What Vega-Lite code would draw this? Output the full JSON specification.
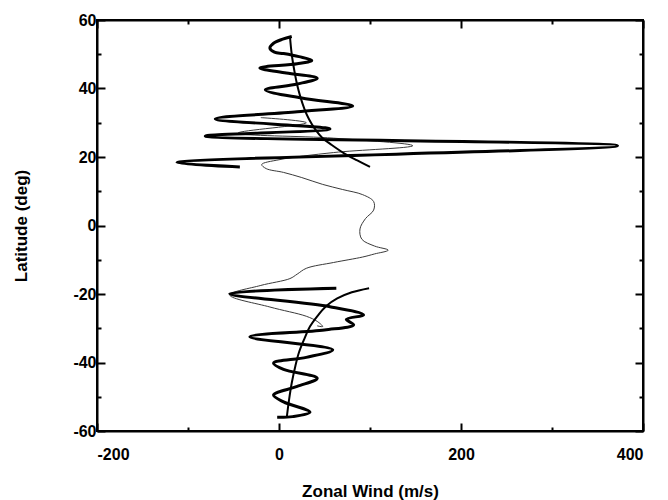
{
  "$schema": "https://vega.github.io/schema/vega-lite/v6.json",
  "width": 546,
  "height": 411,
  "autosize": {"type": "none"},
  "padding": {"left": 97, "top": 20, "right": 25, "bottom": 69},
  "background": "white",
  "config": {
    "view": {"stroke": "black", "strokeWidth": 2},
    "axis": {
      "grid": false,
      "domainColor": "black",
      "domainWidth": 2,
      "tickColor": "black",
      "tickWidth": 2,
      "labelFont": "Liberation Sans",
      "labelFontWeight": "bold",
      "labelFontSize": 16,
      "labelColor": "black",
      "titleFont": "Liberation Sans",
      "titleFontWeight": "bold",
      "titleFontSize": 17,
      "titleColor": "black"
    }
  },
  "data": {
    "values": [
      {"s": "N", "i": 1, "u": 14, "lat": 55.2},
      {"s": "N", "i": 2, "u": 4, "lat": 54.4},
      {"s": "N", "i": 3, "u": -6, "lat": 53.2},
      {"s": "N", "i": 4, "u": -10, "lat": 51.8},
      {"s": "N", "i": 5, "u": -5, "lat": 50.6},
      {"s": "N", "i": 6, "u": 5, "lat": 50.2},
      {"s": "N", "i": 7, "u": 22, "lat": 49.3},
      {"s": "N", "i": 8, "u": 36, "lat": 48.2},
      {"s": "N", "i": 9, "u": 20, "lat": 47.2},
      {"s": "N", "i": 10, "u": -21, "lat": 46},
      {"s": "N", "i": 11, "u": 8, "lat": 44.5},
      {"s": "N", "i": 12, "u": 42, "lat": 43},
      {"s": "N", "i": 13, "u": 20, "lat": 41.3},
      {"s": "N", "i": 14, "u": -15, "lat": 39.6},
      {"s": "N", "i": 15, "u": 25, "lat": 37.2},
      {"s": "N", "i": 16, "u": 81, "lat": 34.9},
      {"s": "N", "i": 17, "u": 20, "lat": 33.2},
      {"s": "N", "i": 18, "u": -70, "lat": 31.1},
      {"s": "N", "i": 19, "u": 56, "lat": 28.2},
      {"s": "N", "i": 20, "u": -81, "lat": 26.1},
      {"s": "N", "i": 21, "u": 372, "lat": 23.3},
      {"s": "N", "i": 22, "u": -112, "lat": 18.4},
      {"s": "N", "i": 23, "u": -43, "lat": 17.1},
      {"s": "S", "i": 1, "u": 63, "lat": -18.3},
      {"s": "S", "i": 2, "u": -54, "lat": -19.9},
      {"s": "S", "i": 3, "u": 56, "lat": -23.7},
      {"s": "S", "i": 4, "u": 93, "lat": -26.1},
      {"s": "S", "i": 5, "u": 74, "lat": -27.4},
      {"s": "S", "i": 6, "u": 82, "lat": -29},
      {"s": "S", "i": 7, "u": 50, "lat": -30.5},
      {"s": "S", "i": 8, "u": -32, "lat": -32.5},
      {"s": "S", "i": 9, "u": 59, "lat": -36.3},
      {"s": "S", "i": 10, "u": 30, "lat": -38.5},
      {"s": "S", "i": 11, "u": -6, "lat": -40.2},
      {"s": "S", "i": 12, "u": 5, "lat": -42},
      {"s": "S", "i": 13, "u": 42, "lat": -44.6},
      {"s": "S", "i": 14, "u": 20, "lat": -47},
      {"s": "S", "i": 15, "u": -6, "lat": -49.5},
      {"s": "S", "i": 16, "u": 5, "lat": -51.5},
      {"s": "S", "i": 17, "u": 34, "lat": -54.5},
      {"s": "S", "i": 18, "u": 15, "lat": -55.8},
      {"s": "S", "i": 19, "u": -2, "lat": -56},
      {"s": "NS", "i": 1, "u": 12, "lat": 55.3},
      {"s": "NS", "i": 2, "u": 14, "lat": 50},
      {"s": "NS", "i": 3, "u": 17, "lat": 45},
      {"s": "NS", "i": 4, "u": 20, "lat": 41},
      {"s": "NS", "i": 5, "u": 23, "lat": 38},
      {"s": "NS", "i": 6, "u": 28, "lat": 34},
      {"s": "NS", "i": 7, "u": 33, "lat": 31},
      {"s": "NS", "i": 8, "u": 40, "lat": 28},
      {"s": "NS", "i": 9, "u": 48, "lat": 25.5},
      {"s": "NS", "i": 10, "u": 58, "lat": 23.5},
      {"s": "NS", "i": 11, "u": 72, "lat": 21},
      {"s": "NS", "i": 12, "u": 86, "lat": 19},
      {"s": "NS", "i": 13, "u": 100, "lat": 17.1},
      {"s": "SS", "i": 1, "u": 8.6, "lat": -55.9},
      {"s": "SS", "i": 2, "u": 11, "lat": -51},
      {"s": "SS", "i": 3, "u": 14, "lat": -46},
      {"s": "SS", "i": 4, "u": 18, "lat": -41},
      {"s": "SS", "i": 5, "u": 22, "lat": -37},
      {"s": "SS", "i": 6, "u": 28, "lat": -33},
      {"s": "SS", "i": 7, "u": 34, "lat": -29.5},
      {"s": "SS", "i": 8, "u": 42, "lat": -26.5},
      {"s": "SS", "i": 9, "u": 52, "lat": -23.5},
      {"s": "SS", "i": 10, "u": 64, "lat": -21.3},
      {"s": "SS", "i": 11, "u": 80, "lat": -19.5},
      {"s": "SS", "i": 12, "u": 99, "lat": -18.3},
      {"s": "T", "i": 1, "u": -20, "lat": 31.5},
      {"s": "T", "i": 2, "u": 30, "lat": 30},
      {"s": "T", "i": 3, "u": -45, "lat": 27},
      {"s": "T", "i": 4, "u": 60, "lat": 25.5},
      {"s": "T", "i": 5, "u": 147, "lat": 23.3},
      {"s": "T", "i": 6, "u": 60, "lat": 21.3},
      {"s": "T", "i": 7, "u": 0, "lat": 19.2},
      {"s": "T", "i": 8, "u": -19, "lat": 17.8},
      {"s": "T", "i": 9, "u": -14, "lat": 16.6},
      {"s": "T", "i": 10, "u": 5, "lat": 15.5},
      {"s": "T", "i": 11, "u": 25, "lat": 14},
      {"s": "T", "i": 12, "u": 48, "lat": 12},
      {"s": "T", "i": 13, "u": 70, "lat": 10.5},
      {"s": "T", "i": 14, "u": 92, "lat": 9},
      {"s": "T", "i": 15, "u": 104, "lat": 7},
      {"s": "T", "i": 16, "u": 104, "lat": 4.5},
      {"s": "T", "i": 17, "u": 95, "lat": 2},
      {"s": "T", "i": 18, "u": 89, "lat": -1},
      {"s": "T", "i": 19, "u": 91, "lat": -4},
      {"s": "T", "i": 20, "u": 105, "lat": -6},
      {"s": "T", "i": 21, "u": 120, "lat": -7.2},
      {"s": "T", "i": 22, "u": 105, "lat": -8.3},
      {"s": "T", "i": 23, "u": 92, "lat": -9.2},
      {"s": "T", "i": 24, "u": 60, "lat": -10.8},
      {"s": "T", "i": 25, "u": 30, "lat": -12.5},
      {"s": "T", "i": 26, "u": 20, "lat": -14.2},
      {"s": "T", "i": 27, "u": 12, "lat": -15.5},
      {"s": "T", "i": 28, "u": -20, "lat": -17.5},
      {"s": "T", "i": 29, "u": -54, "lat": -20.3},
      {"s": "T", "i": 30, "u": -10, "lat": -23.8},
      {"s": "T", "i": 31, "u": 30, "lat": -26.5},
      {"s": "T", "i": 32, "u": 42, "lat": -28},
      {"s": "T", "i": 33, "u": 48, "lat": -29.5},
      {"s": "T", "i": 34, "u": 42, "lat": -29.3}
    ]
  },
  "layer": [
    {
      "encoding": {
        "x": {
          "field": "u", "type": "quantitative",
          "scale": {"domain": [-200, 400], "nice": false, "zero": false},
          "axis": {
            "orient": "bottom",
            "title": "Zonal Wind (m/s)",
            "values": [-200, -100, 0, 100, 200, 300, 400],
            "labelExpr": "datum.value % 200 == 0 ? '' + datum.value : ''",
            "tickSize": {"condition": {"test": "datum.value % 200 != 0", "value": -4}, "value": -8},
            "labelPadding": 23,
            "titlePadding": 21
          }
        },
        "y": {
          "field": "lat", "type": "quantitative",
          "scale": {"domain": [-60, 60], "nice": false, "zero": false},
          "axis": {
            "orient": "left",
            "title": "Latitude (deg)",
            "values": [-60, -50, -40, -30, -20, -10, 0, 10, 20, 30, 40, 50, 60],
            "labelExpr": "datum.value % 20 == 0 ? '' + datum.value : ''",
            "tickSize": {"condition": {"test": "datum.value % 20 != 0", "value": -4}, "value": -8},
            "labelPadding": 9,
            "titlePadding": 42
          }
        },
        "order": {"field": "i", "type": "quantitative"}
      },
      "layer": [
        {
          "transform": [{"filter": "datum.s == 'T'"}],
          "mark": {"type": "line", "color": "#3a3a3a", "strokeWidth": 1, "interpolate": "catmull-rom"}
        },
        {
          "transform": [{"filter": "datum.s == 'NS' || datum.s == 'SS'"}],
          "mark": {"type": "line", "color": "black", "strokeWidth": 2, "interpolate": "catmull-rom"},
          "encoding": {"detail": {"field": "s"}}
        },
        {
          "transform": [{"filter": "datum.s == 'N' || datum.s == 'S'"}],
          "mark": {"type": "line", "color": "black", "strokeWidth": 3, "interpolate": "catmull-rom"},
          "encoding": {"detail": {"field": "s"}}
        }
      ]
    },
    {
      "transform": [{"filter": "datum.s == 'T'"}],
      "mark": {"type": "line", "strokeOpacity": 0},
      "encoding": {
        "x": {
          "field": "u", "type": "quantitative",
          "axis": {
            "orient": "top", "title": null, "labels": false,
            "values": [-200, -100, 0, 100, 200, 300, 400],
            "tickSize": {"condition": {"test": "datum.value % 200 != 0", "value": -4}, "value": -8}
          }
        },
        "y": {
          "field": "lat", "type": "quantitative",
          "axis": {
            "orient": "right", "title": null, "labels": false,
            "values": [-60, -50, -40, -30, -20, -10, 0, 10, 20, 30, 40, 50, 60],
            "tickSize": {"condition": {"test": "datum.value % 20 != 0", "value": -4}, "value": -8}
          }
        },
        "order": {"field": "i", "type": "quantitative"}
      }
    }
  ],
  "resolve": {"axis": {"x": "independent", "y": "independent"}}
}
